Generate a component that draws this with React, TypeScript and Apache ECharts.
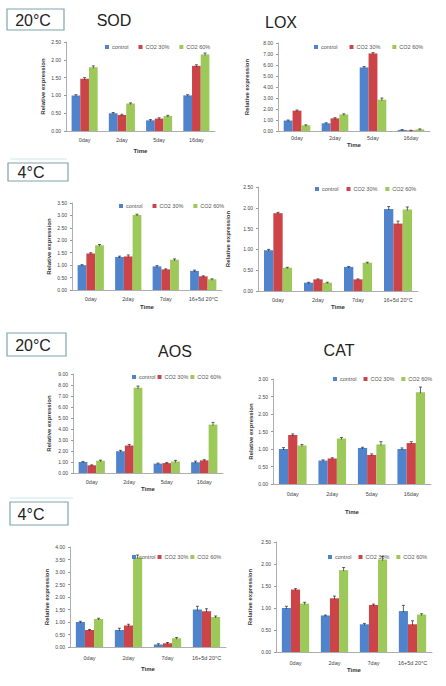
import React, { useEffect, useRef } from "react";
import * as echarts from "echarts";

// ---------- DATA ----------
const days20 = ["0day", "2day", "5day", "16day"];
const days4 = ["0day", "2day", "7day", "16+5d 20°C"];
const seriesNames = ["control", "CO2 30%", "CO2 60%"];

// SOD 20°C
const sod20Control = [1.0, 0.5, 0.3, 1.0];
const sod20Co30 = [1.47, 0.45, 0.35, 1.83];
const sod20Co60 = [1.79, 0.77, 0.42, 2.15];
const sod20Err = [[0.02, 0.02, 0.02, 0.02], [0.03, 0.02, 0.02, 0.03], [0.04, 0.02, 0.02, 0.04]];
// LOX 20°C
const lox20Control = [0.95, 0.7, 5.78, 0.1];
const lox20Co30 = [1.85, 1.15, 7.05, 0.05];
const lox20Co60 = [0.52, 1.5, 2.85, 0.15];
const lox20Err = [[0.05, 0.05, 0.08, 0.03], [0.06, 0.06, 0.08, 0.02], [0.04, 0.06, 0.15, 0.04]];
// SOD 4°C
const sod4Control = [1.0, 1.33, 0.95, 0.77];
const sod4Co30 = [1.47, 1.35, 0.83, 0.55];
const sod4Co60 = [1.8, 3.02, 1.22, 0.43];
const sod4Err = [[0.02, 0.03, 0.03, 0.03], [0.03, 0.06, 0.02, 0.02], [0.03, 0.03, 0.03, 0.02]];
// LOX 4°C
const lox4Control = [0.98, 0.2, 0.58, 1.97];
const lox4Co30 = [1.87, 0.28, 0.28, 1.62];
const lox4Co60 = [0.56, 0.2, 0.68, 1.96];
const lox4Err = [[0.02, 0.01, 0.01, 0.06], [0.02, 0.01, 0.01, 0.06], [0.01, 0.01, 0.01, 0.06]];
// AOS 20°C
const aos20Control = [1.0, 1.98, 0.85, 0.98];
const aos20Co30 = [0.7, 2.5, 0.9, 1.15];
const aos20Co60 = [1.12, 7.75, 1.05, 4.4];
const aos20Err = [[0.05, 0.08, 0.05, 0.1], [0.04, 0.1, 0.05, 0.06], [0.05, 0.15, 0.1, 0.2]];
// CAT 20°C
const cat20Control = [1.0, 0.67, 1.03, 1.0];
const cat20Co30 = [1.4, 0.73, 0.83, 1.17];
const cat20Co60 = [1.1, 1.3, 1.13, 2.62];
const cat20Err = [[0.04, 0.02, 0.02, 0.03], [0.03, 0.02, 0.03, 0.04], [0.03, 0.03, 0.08, 0.15]];
// AOS 4°C
const aos4Control = [1.0, 0.68, 0.1, 1.5];
const aos4Co30 = [0.68, 0.86, 0.15, 1.43];
const aos4Co60 = [1.12, 3.58, 0.35, 1.2];
const aos4Err = [[0.03, 0.07, 0.03, 0.13], [0.02, 0.05, 0.03, 0.1], [0.03, 0.1, 0.03, 0.04]];
// CAT 4°C
const cat4Control = [1.0, 0.83, 0.63, 0.93];
const cat4Co30 = [1.42, 1.22, 1.07, 0.63];
const cat4Co60 = [1.1, 1.86, 2.1, 0.85];
const cat4Err = [[0.04, 0.01, 0.02, 0.13], [0.02, 0.05, 0.02, 0.08], [0.03, 0.06, 0.07, 0.02]];

// axis scales
const yMax = [2.5, 8, 3.5, 2.5, 9, 3, 4, 2.5];
const yInterval = [0.5, 1, 0.5, 0.5, 1, 0.5, 0.5, 0.5];

const panelCats = [days20, days20, days4, days4, days20, days20, days4, days4];
const panelValues = [
  [sod20Control, sod20Co30, sod20Co60],
  [lox20Control, lox20Co30, lox20Co60],
  [sod4Control, sod4Co30, sod4Co60],
  [lox4Control, lox4Co30, lox4Co60],
  [aos20Control, aos20Co30, aos20Co60],
  [cat20Control, cat20Co30, cat20Co60],
  [aos4Control, aos4Co30, aos4Co60],
  [cat4Control, cat4Co30, cat4Co60],
];
const panelErrors = [sod20Err, lox20Err, sod4Err, lox4Err, aos20Err, cat20Err, aos4Err, cat4Err];

// ---------- LAYOUT ----------
const colors = ["#4f84cc", "#cc4448", "#9dc85a"];
const grids = [
  { left: 66, top: 42, width: 149, height: 89 },
  { left: 278, top: 43, width: 152, height: 88 },
  { left: 72, top: 203, width: 150, height: 87 },
  { left: 258, top: 187, width: 160, height: 104 },
  { left: 73, top: 374, width: 150, height: 99 },
  { left: 273, top: 379, width: 158, height: 105 },
  { left: 70, top: 547, width: 156, height: 100 },
  { left: 276, top: 542, width: 156, height: 110 },
];
const yNameGap = [20, 28, 20, 27, 21, 15, 20, 23];
const xNameGap = [17, 10, 14, 13, 12, 25, 19, 14];
const xLabelMargin = [6, 4, 6, 6, 6, 7, 8, 8];
const legendPos = [
  { left: 105, top: 44, gap: 10 },
  { left: 314, top: 44, gap: 12 },
  { left: 119, top: 203, gap: 10 },
  { left: 315, top: 186, gap: 8 },
  { left: 132, top: 374, gap: 2 },
  { left: 333, top: 376, gap: 7 },
  { left: 132, top: 554, gap: 2 },
  { left: 328, top: 554, gap: 7 },
];

const GAP = 0.3;

function errRender(params: any, api: any) {
  const cat = api.value(0);
  const v = api.value(1);
  const e = api.value(2);
  const s = api.value(3);
  const cw = api.size([1, 0])[0];
  const bw = (cw * (1 - GAP)) / 3;
  const x = api.coord([cat, 0])[0] + (s - 1) * bw;
  const yTop = api.coord([cat, v + e])[1];
  const yV = api.coord([cat, v])[1];
  const st = { stroke: "#222", lineWidth: 0.7 };
  return {
    type: "group",
    children: [
      { type: "line", shape: { x1: x, y1: yTop, x2: x, y2: yV + 1 }, style: st },
      { type: "line", shape: { x1: x - 1.5, y1: yTop, x2: x + 1.5, y2: yTop }, style: st },
    ],
  };
}

const boxStroke = "#7fa6ad";
const titleFont = "'Liberation Sans', Arial, sans-serif";
const smallFont = "'Liberation Sans', 'DejaVu Sans', sans-serif";

function buildOption() {
  const series: any[] = [];
  panelValues.forEach((vals, p) => {
    vals.forEach((arr, s) => {
      series.push({
        type: "bar",
        name: seriesNames[s],
        xAxisIndex: p,
        yAxisIndex: p,
        data: arr,
        barGap: "0%",
        barCategoryGap: GAP * 100 + "%",
        itemStyle: { color: colors[s] },
      });
    });
    const errData: number[][] = [];
    vals.forEach((arr, s) => {
      arr.forEach((v, c) => errData.push([c, v, panelErrors[p][s][c], s]));
    });
    series.push({
      type: "custom",
      name: "err" + p,
      xAxisIndex: p,
      yAxisIndex: p,
      data: errData,
      encode: { x: 0, y: 1 },
      renderItem: errRender,
      z: 5,
    });
  });

  const xAxis = grids.map((_, p) => ({
    type: "category",
    gridIndex: p,
    data: panelCats[p],
    name: "Time",
    nameLocation: "middle",
    nameGap: xNameGap[p],
    nameTextStyle: { fontSize: 6, fontWeight: "bold", color: "#333", fontFamily: smallFont },
    axisLine: { lineStyle: { color: "#999", width: 0.8 } },
    axisTick: { show: false },
    axisLabel: { fontSize: 5.5, color: "#444", margin: xLabelMargin[p], fontFamily: smallFont, interval: 0 },
  }));
  const yAxis = grids.map((_, p) => ({
    type: "value",
    gridIndex: p,
    min: 0,
    max: yMax[p],
    interval: yInterval[p],
    name: "Relative expression",
    nameLocation: "middle",
    nameGap: yNameGap[p],
    nameRotate: 90,
    nameTextStyle: { fontSize: 6, fontWeight: "bold", color: "#333", fontFamily: smallFont },
    axisLine: { show: true, lineStyle: { color: "#999", width: 0.8 } },
    axisTick: { show: true, length: 2, lineStyle: { color: "#999" } },
    splitLine: { show: false },
    axisLabel: {
      fontSize: 5,
      color: "#444",
      margin: 5,
      fontFamily: smallFont,
      formatter: (v: number) => v.toFixed(2),
    },
  }));
  const legend = legendPos.map((l) => ({
    data: seriesNames,
    left: l.left,
    top: l.top,
    itemGap: l.gap,
    itemWidth: 4,
    itemHeight: 4,
    icon: "rect",
    padding: 0,
    selectedMode: false,
    textStyle: { fontSize: 5.5, color: "#555", fontFamily: smallFont, padding: [0, 0, 0, -2] },
  }));

  const box = (x: number, y: number, w: number, h: number, tx: number, label: string) => ({
    type: "group",
    children: [
      { type: "rect", shape: { x, y, width: w, height: h }, style: { fill: "#fff", stroke: boxStroke, lineWidth: 1.2 } },
      {
        type: "text",
        x: tx,
        y: y + h / 2 + 0.5,
        style: { text: label, font: `16px ${titleFont}`, fill: "#222", align: "center", verticalAlign: "middle" },
      },
    ],
  });
  const title = (cx: number, cy: number, label: string) => ({
    type: "text",
    x: cx,
    y: cy,
    style: { text: label, font: `16px ${titleFont}`, fill: "#222", align: "center", verticalAlign: "middle" },
  });

  const graphic = [
    box(7, 9, 57, 21, 33, "20°C"),
    box(8, 163, 60, 18, 31, "4°C"),
    box(7, 333, 59, 23, 33, "20°C"),
    box(10, 502, 58, 23, 31, "4°C"),
    { type: "line", shape: { x1: 10, y1: 159, x2: 67, y2: 159 }, style: { stroke: "#cfe6ec", lineWidth: 1 } },
    { type: "line", shape: { x1: 10, y1: 498, x2: 73, y2: 498 }, style: { stroke: "#cfe6ec", lineWidth: 1 } },
    title(114, 20, "SOD"),
    title(281, 22, "LOX"),
    title(175, 351, "AOS"),
    title(339, 350, "CAT"),
  ];

  return {
    animation: false,
    backgroundColor: "#fff",
    grid: grids.map((g) => ({ ...g, containLabel: false })),
    xAxis,
    yAxis,
    legend,
    series,
    graphic,
  };
}

export default function App() {
  const ref = useRef<HTMLDivElement>(null);
  useEffect(() => {
    if (!ref.current) return;
    const chart = echarts.init(ref.current, undefined, { renderer: "svg" });
    chart.setOption(buildOption() as any);
    return () => chart.dispose();
  }, []);
  return (
    <div
      ref={ref}
      style={{ position: "absolute", left: 0, top: 0, width: 446, height: 686, background: "#fff" }}
    />
  );
}
